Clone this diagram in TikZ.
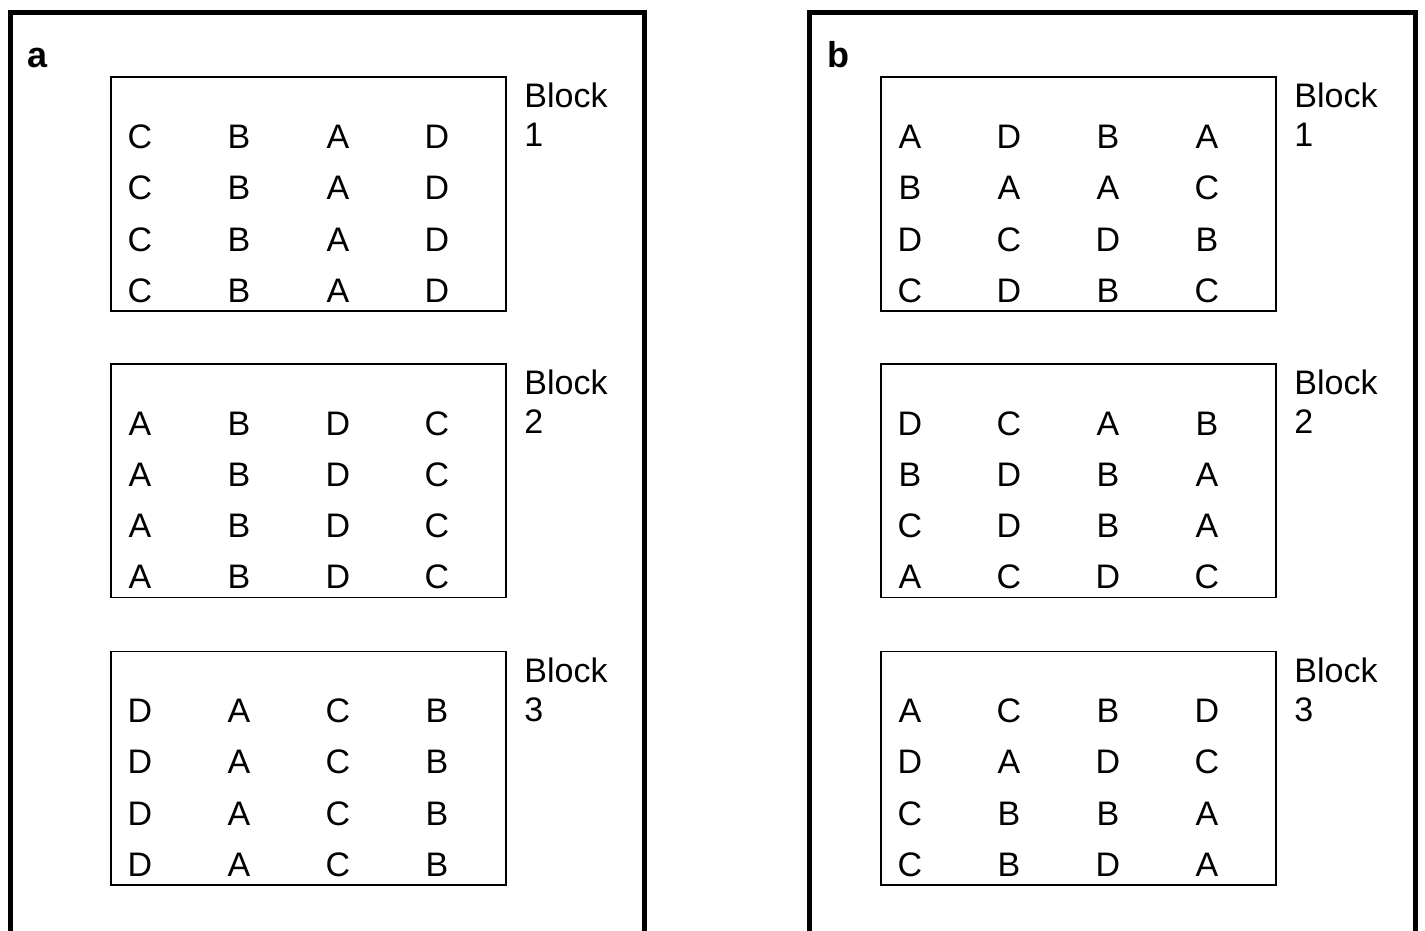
\documentclass[tikz,border=0pt]{standalone}
\usepackage{fontspec}
\setmainfont{Liberation Sans}
\usetikzlibrary{positioning}

\tikzset{
  panel/.style={draw,line width=2.5pt,miter limit=10},
  blockbox/.style={draw,line width=0.8pt,anchor=north west,inner sep=0pt,
    minimum width=197.5pt,minimum height=116.8pt},
  cell/.style={font=\fontsize{17}{19.5}\selectfont,anchor=base,inner sep=0pt},
  blocklabel/.style={font=\fontsize{17}{19.5}\selectfont,anchor=base west,inner sep=0pt},
  panellabel/.style={font=\fontsize{18}{20}\selectfont\bfseries,anchor=base,inner sep=0pt}
}

\begin{document}
\begin{tikzpicture}[x=0.5pt,y=-0.5pt]
  \useasboundingbox (0,0) rectangle (1425,931);

  % outer panels, open at the bottom
  \coordinate (aBL) at (10.5,940);
  \coordinate (aTR) at (644,12.5);
  \coordinate (bBL) at (809.5,940);
  \coordinate (bTR) at (1415,12.5);
  \draw[panel] (aBL) |- (aTR) -- (aTR |- aBL);
  \draw[panel] (bBL) |- (bTR) -- (bTR |- bBL);

  \node[panellabel] (lab-a) at (38,68) {a};
  \node[panellabel] (lab-b) at (838,68) {b};

  % blocks
  \foreach \pan/\bx/\blk/\by/\rows in {
    a/110/1/76.5/{{C,B,A,D},{C,B,A,D},{C,B,A,D},{C,B,A,D}},
    a/110/2/363/{{A,B,D,C},{A,B,D,C},{A,B,D,C},{A,B,D,C}},
    a/110/3/650.5/{{D,A,C,B},{D,A,C,B},{D,A,C,B},{D,A,C,B}},
    b/880/1/76.5/{{A,D,B,A},{B,A,A,C},{D,C,D,B},{C,D,B,C}},
    b/880/2/363/{{D,C,A,B},{B,D,B,A},{C,D,B,A},{A,C,D,C}},
    b/880/3/650.5/{{A,C,B,D},{D,A,D,C},{C,B,B,A},{C,B,D,A}}} {
    \node[blockbox] (box-\pan\blk) at (\bx,\by) {};
    \node[blocklabel] (blk-\pan\blk) at ([xshift=207pt,yshift=-15.75pt]box-\pan\blk.north west) {Block};
    \node[blocklabel] (num-\pan\blk) at ([yshift=-19.5pt]blk-\pan\blk.base west) {\blk};
    \foreach \row [count=\r] in \rows {
      \foreach \ch [count=\c] in \row {
        \node[cell] (cell-\pan\blk-\r-\c) at ([xshift={15pt+49.5pt*(\c-1)},yshift={-36pt-25.65pt*(\r-1)}]box-\pan\blk.north west) {\ch};
      }
    }
  }
\end{tikzpicture}
\end{document}
